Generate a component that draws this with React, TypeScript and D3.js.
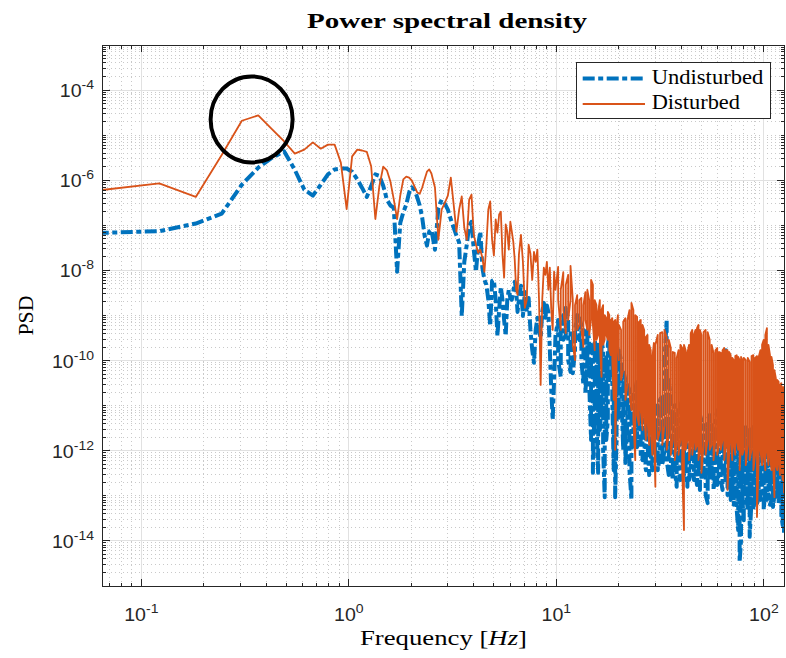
import React from "react";
import * as d3 from "d3";

// ---- Low/mid frequency part: single trace per run (Hz, log10 PSD) ----
const freqHz: number[] = [
  0.061, 0.122, 0.183, 0.244, 0.305, 0.366, 0.427, 0.488, 0.549, 0.61,
  0.671, 0.732, 0.793, 0.854, 0.915, 0.976, 1.037, 1.098, 1.159, 1.22,
  1.281, 1.342, 1.403, 1.464, 1.525, 1.586, 1.647, 1.708, 1.769, 1.83,
  1.891, 1.952, 2.013, 2.074, 2.135, 2.196, 2.257, 2.318, 2.379, 2.44,
  2.5, 2.6, 2.7, 2.8, 2.9, 3.0, 3.1, 3.2, 3.3, 3.4,
  3.5, 3.6, 3.7, 3.8, 3.9, 4.0, 4.1, 4.2, 4.3, 4.4,
  4.5, 4.6, 4.7, 4.8, 4.9, 5.0, 5.1, 5.2, 5.3, 5.4,
  5.5, 5.6, 5.7, 5.8, 5.9, 6.0, 6.1, 6.2, 6.3, 6.4,
  6.5, 6.6,
  6.75, 6.9, 7.05, 7.2, 7.35, 7.5, 7.65, 7.8, 7.95, 8.1,
  8.25, 8.4, 8.55, 8.7, 8.85, 9.0, 9.15, 9.3, 9.45, 9.6,
  9.75, 9.9,
];

const undisturbedLog10: number[] = [
  -7.17, -7.13, -6.96, -6.74, -6.10, -5.72, -5.50, -5.36, -5.77, -6.21,
  -6.34, -6.10, -5.87, -5.76, -5.74, -5.74, -5.81, -5.98, -6.17, -6.37,
  -6.13, -5.87, -5.90, -6.12, -6.43, -6.56, -6.61, -8.03, -6.95, -6.71,
  -6.54, -6.27, -6.16, -6.21, -6.38, -6.56, -6.83, -7.23, -7.45, -7.14,
  -7.10, -7.54, -6.61, -6.43, -6.52, -6.65, -6.87, -7.05, -7.23, -7.38,
  -9.01, -7.81, -7.43, -7.01, -6.92, -7.54, -8.03, -7.43, -7.14, -7.94,
  -8.21, -8.32, -8.65, -9.23, -8.23, -8.21, -8.65, -9.45, -8.87, -8.37,
  -8.65, -9.10, -9.45, -8.65, -8.43, -8.61, -8.65, -8.48, -8.25, -8.43,
  -8.92, -8.65,
  -8.34, -9.01, -8.48, -8.92, -8.61, -9.32, -9.76, -10.05, -9.32, -9.05,
  -9.32, -9.50, -8.92, -8.72, -9.05, -8.78, -8.92, -9.76, -10.65, -11.32,
  -10.43, -9.45,
];

const disturbedLog10: number[] = [
  -6.23, -6.07, -6.37, -5.44, -4.68, -4.56, -4.87, -5.14, -5.41, -5.32,
  -5.16, -5.30, -5.21, -5.21, -5.61, -6.64, -5.47, -5.32, -5.34, -5.37,
  -5.69, -6.86, -6.13, -5.70, -5.78, -6.03, -6.43, -6.86, -6.34, -5.98,
  -5.92, -5.94, -6.01, -6.14, -6.27, -6.30, -6.16, -5.98, -5.81, -5.76,
  -5.85, -6.16, -7.32, -6.65, -6.50, -6.34, -5.94, -6.54, -7.14, -6.65,
  -6.36, -7.05, -7.32, -6.43, -6.32, -7.21, -7.43, -7.61, -7.54, -7.72,
  -8.03, -7.43, -6.65, -6.47, -7.32, -7.67, -6.87, -7.16, -6.76, -6.70,
  -7.65, -8.16, -6.98, -7.14, -7.54, -6.92, -7.14, -7.36, -7.76, -8.43,
  -8.54, -7.65,
  -7.21, -7.81, -8.83, -8.65, -7.43, -7.63, -8.21, -7.59, -7.81, -7.54,
  -8.65, -10.54, -8.65, -7.94, -8.10, -7.81, -8.43, -7.94, -8.87, -9.32,
  -8.03, -8.43,
];

// ---- High frequency part: densely packed spectrum, stored as the
// upper and lower extent (log10 PSD) of each run within narrow frequency bins ----
const bandFreqHz: number[] = [
  10.2, 10.5, 10.8, 11.1, 11.4, 11.7, 12.0, 12.3, 12.6, 12.9,
  13.2, 13.5, 13.8, 14.1, 14.4, 14.7, 15.0, 15.3, 15.6, 15.9,
  16.2, 16.5, 16.8, 17.1, 17.4, 17.7, 18.0, 18.3, 18.6, 18.9,
  19.2, 19.5, 19.8,
  20.0, 20.5, 21.0, 21.5, 22.0, 22.5, 23.0, 23.5, 24.0, 24.5,
  25.0, 25.5, 26.0, 26.5, 27.0, 27.5, 28.0, 28.5, 29.0, 29.5,
  30.0, 30.8, 31.6, 32.4, 33.2, 34.0, 34.8, 35.6, 36.4, 37.2,
  38.0, 38.8, 39.6, 40.4, 41.2, 42.0, 42.8, 43.6, 44.4, 45.2,
  46.0, 46.8, 47.6, 48.4, 49.2,
  50.0, 51.2, 52.4, 53.6, 54.8, 56.0, 57.2, 58.4, 59.6, 60.8,
  62.0, 63.2, 64.4, 65.6, 66.8, 68.0, 69.2, 70.4, 71.6, 72.8,
  74.0, 75.2, 76.4, 77.6, 78.8,
  80.0, 81.8, 83.6, 85.4, 87.2, 89.0, 90.8, 92.6, 94.4, 96.2,
  98.0, 99.8, 101.6, 103.4, 105.2, 107.0, 108.8, 110.6, 112.4, 114.2,
  116.0, 117.8, 119.6, 121.4, 123.2, 125.0,
];

const undisturbedHi: number[] = [
  -9.10, -9.32, -8.99, -8.83, -9.06, -9.32, -9.43, -9.32, -8.99, -9.06,
  -9.21, -9.32, -9.43, -9.32, -9.54, -9.65, -9.77, -9.54, -9.77, -9.65,
  -9.88, -9.54, -9.77, -9.99, -9.88, -9.65, -9.43, -9.32, -9.54, -9.77,
  -9.99, -9.88, -9.77,
  -9.77, -9.99, -10.21, -10.43, -10.54, -10.65, -10.87, -10.76, -10.65, -10.43,
  -10.54, -10.65, -10.76, -10.54, -10.87, -10.76, -10.99, -10.87, -11.10, -10.87,
  -11.10, -10.99, -10.87, -10.76, -9.99, -9.10, -10.43, -10.87, -11.10, -10.99,
  -11.21, -11.10, -10.99, -10.87, -11.10, -10.99, -11.21, -11.10, -10.87, -10.76,
  -10.99, -10.87, -11.10, -10.99, -11.21,
  -11.32, -11.43, -11.54, -11.32, -11.21, -11.43, -11.54, -11.32, -11.10, -11.32,
  -11.21, -10.99, -10.65, -9.77, -11.32, -11.43, -11.54, -11.32, -11.43, -11.54,
  -11.32, -11.54, -11.43, -11.32, -11.54,
  -11.54, -11.43, -11.54, -11.65, -11.54, -11.43, -11.54, -11.65, -11.54, -11.43,
  -11.54, -11.32, -11.43, -11.54, -11.32, -11.54, -11.43, -11.54, -11.65, -11.54,
  -11.76, -11.65, -11.76, -11.87, -11.76, -11.98,
];

const undisturbedLo: number[] = [
  -9.99, -10.36, -9.54, -9.43, -9.99, -10.25, -10.28, -9.77, -9.43, -9.54,
  -9.99, -10.54, -10.72, -9.99, -10.54, -11.76, -12.49, -10.87, -11.32, -12.49,
  -11.54, -10.87, -11.98, -13.03, -11.76, -11.32, -10.43, -9.99, -10.87, -12.43,
  -13.03, -11.76, -11.32,
  -11.32, -10.59, -11.98, -12.27, -11.32, -12.43, -13.09, -11.70, -11.98, -11.92,
  -11.54, -12.09, -12.21, -11.76, -12.43, -11.87, -12.54, -12.09, -12.43, -11.76,
  -12.21, -12.43, -12.09, -12.32, -11.98, -12.21, -12.54, -12.21, -12.65, -12.43,
  -12.80, -12.43, -12.65, -12.21, -12.54, -12.43, -12.80, -12.65, -12.32, -12.43,
  -12.65, -12.43, -12.76, -12.54, -12.87,
  -12.65, -12.43, -12.98, -13.16, -12.65, -12.43, -12.87, -12.54, -12.76, -12.43,
  -12.65, -12.87, -12.43, -12.65, -12.98, -12.65, -13.09, -12.76, -13.20, -12.87,
  -13.31, -13.76, -14.47, -13.98, -13.09,
  -13.54, -12.87, -13.31, -13.91, -13.09, -13.31, -12.98, -13.20, -12.87, -13.09,
  -12.98, -13.31, -12.87, -13.09, -12.98, -13.20, -13.09, -13.25, -12.98, -13.09,
  -12.87, -13.20, -13.09, -13.43, -13.65, -13.82,
];

const disturbedHi: number[] = [
  -7.92, -8.43, -8.04, -8.32, -8.10, -7.90, -8.66, -8.77, -8.55, -8.66,
  -8.61, -8.77, -8.48, -8.43, -8.66, -8.21, -8.32, -8.66, -8.77, -8.92,
  -8.66, -8.88, -8.77, -8.99, -9.06, -8.92, -8.99, -9.10, -9.06, -9.14,
  -9.10, -9.21, -8.99,
  -9.21, -9.32, -9.14, -9.06, -9.10, -8.88, -8.72, -8.88, -8.99, -9.03,
  -9.14, -9.10, -9.21, -9.32, -9.48, -9.43, -9.65, -9.77, -9.94, -9.61,
  -9.65, -9.43, -9.39, -9.37, -9.32, -9.48, -9.54, -9.72, -9.81, -9.83,
  -9.94, -9.77, -9.65, -9.72, -9.65, -9.77, -9.83, -9.65, -9.39, -9.32,
  -9.43, -9.32, -9.28, -9.21, -9.32,
  -9.43, -9.37, -9.32, -9.37, -9.54, -9.65, -9.83, -9.77, -9.72, -9.81,
  -9.83, -9.77, -9.72, -9.77, -9.77, -9.81, -9.88, -9.94, -9.99, -9.90,
  -9.88, -9.92, -9.99, -9.92, -9.99,
  -9.94, -9.99, -9.94, -10.03, -9.90, -9.88, -9.94, -9.90, -9.92, -9.77,
  -9.65, -9.54, -9.43, -9.28, -9.65, -9.88, -9.92, -10.10, -10.21, -10.39,
  -10.43, -10.47, -10.54, -10.50, -10.59, -10.59,
];

const disturbedLo: number[] = [
  -8.66, -9.32, -8.88, -9.39, -9.10, -8.66, -9.65, -9.99, -9.32, -9.21,
  -9.32, -9.70, -9.10, -9.32, -9.43, -9.10, -9.21, -9.77, -9.54, -9.43,
  -9.65, -10.36, -9.65, -9.54, -9.43, -9.54, -9.77, -9.88, -9.99, -10.87,
  -11.98, -10.43, -9.65,
  -9.99, -10.43, -10.21, -10.87, -10.54, -10.76, -11.10, -11.32, -12.21, -11.21,
  -11.43, -11.10, -11.54, -11.21, -11.76, -11.32, -11.87, -11.54, -12.09, -11.54,
  -12.80, -11.76, -11.54, -11.87, -11.43, -11.98, -11.65, -12.09, -11.76, -12.21,
  -11.87, -12.09, -11.76, -12.43, -13.76, -11.98, -11.76, -12.21, -11.87, -12.09,
  -11.76, -11.98, -11.87, -12.21, -11.98,
  -12.49, -11.87, -12.09, -11.76, -11.98, -11.87, -12.21, -11.76, -12.09, -11.87,
  -11.98, -11.76, -12.21, -11.87, -12.87, -12.09, -11.76, -12.21, -11.87, -12.09,
  -11.76, -11.98, -12.43, -11.87, -12.09,
  -11.98, -12.32, -11.87, -12.21, -11.98, -12.43, -12.09, -13.47, -12.21, -11.98,
  -12.32, -12.09, -12.43, -11.98, -12.32, -12.09, -12.43, -12.21, -13.03, -12.32,
  -12.43, -12.21, -12.54, -12.32, -12.65, -12.94,
];

const seriesNames = ["Undisturbed", "Disturbed"];
const xTickExponents = [-1, 0, 1, 2];
const yTickExponents = [-14, -12, -10, -8, -6, -4];
// highlighted resonance peak (frequency in Hz, log10 PSD)
const highlightFreq = 0.34;
const highlightLog10 = -4.65;

const WIDTH = 786;
const HEIGHT = 658;
const PLOT = { left: 102.5, right: 784, top: 45, bottom: 586 };
const BLUE = "#0072BD";
const ORANGE = "#D95319";
const AXIS = "#262626";

type Pt = [number, number];

// trace followed by the dense bins, each bin drawn from one extreme to the other
function buildSeries(trace: number[], hi: number[], lo: number[]): Pt[] {
  const pts: Pt[] = [];
  const n = Math.min(freqHz.length, trace.length);
  for (let i = 0; i < n; i++) pts.push([freqHz[i], Math.pow(10, trace[i])]);
  const m = Math.min(bandFreqHz.length, hi.length, lo.length);
  for (let i = 0; i < m; i++) {
    const a: Pt = [bandFreqHz[i], Math.pow(10, hi[i])];
    const b: Pt = [bandFreqHz[i], Math.pow(10, lo[i])];
    if (i % 2 === 0) pts.push(a, b);
    else pts.push(b, a);
  }
  return pts;
}

export default function App() {
  const x = d3.scaleLog().domain([0.065, 125]).range([PLOT.left, PLOT.right]);
  const y = d3.scaleLog().domain([1e-15, 1e-3]).range([PLOT.bottom, PLOT.top]);

  const undisturbed = buildSeries(undisturbedLog10, undisturbedHi, undisturbedLo);
  const disturbed = buildSeries(disturbedLog10, disturbedHi, disturbedLo);
  const line = d3
    .line<Pt>()
    .x((d) => x(d[0]))
    .y((d) => y(d[1]));

  const [x0, x1] = x.domain();
  const [y0, y1] = y.domain();

  const xMinor: number[] = [];
  for (let e = -2; e <= 2; e++) {
    for (let k = 2; k <= 9; k++) {
      const v = k * Math.pow(10, e);
      if (v >= x0 && v <= x1) xMinor.push(v);
    }
  }
  const yMinor: number[] = [];
  for (let e = -16; e <= -3; e++) {
    for (let k = 1; k <= 9; k++) {
      if (k === 1 && yTickExponents.includes(e)) continue;
      const v = k * Math.pow(10, e);
      if (v >= y0 * 0.999 && v <= y1 * 1.001) yMinor.push(v);
    }
  }

  const majorLen = 7;
  const minorLen = 3.5;

  return (
    <svg
      width={WIDTH}
      height={HEIGHT}
      viewBox={`0 0 ${WIDTH} ${HEIGHT}`}
      style={{ position: "absolute", left: 0, top: 0, display: "block", background: "#fff" }}
    >
      <defs>
        <clipPath id="plot-clip">
          <rect x={PLOT.left} y={PLOT.top} width={PLOT.right - PLOT.left} height={PLOT.bottom - PLOT.top} />
        </clipPath>
      </defs>
      <rect x={0} y={0} width={WIDTH} height={HEIGHT} fill="#fff" />

      {/* grid */}
      <g strokeWidth={1} fill="none" shapeRendering="crispEdges">
        {xMinor.map((v, i) => (
          <line key={`xm${i}`} x1={x(v)} x2={x(v)} y1={PLOT.top} y2={PLOT.bottom} stroke="#c9c9c9" strokeDasharray="1 3" />
        ))}
        {yMinor.map((v, i) => (
          <line key={`ym${i}`} x1={PLOT.left} x2={PLOT.right} y1={y(v)} y2={y(v)} stroke="#c9c9c9" strokeDasharray="1 3" />
        ))}
        {xTickExponents.map((e) => (
          <line key={`xg${e}`} x1={x(Math.pow(10, e))} x2={x(Math.pow(10, e))} y1={PLOT.top} y2={PLOT.bottom} stroke="#e1e1e1" />
        ))}
        {yTickExponents.map((e) => (
          <line key={`yg${e}`} x1={PLOT.left} x2={PLOT.right} y1={y(Math.pow(10, e))} y2={y(Math.pow(10, e))} stroke="#e1e1e1" />
        ))}
      </g>

      {/* spectra */}
      <g clipPath="url(#plot-clip)" fill="none">
        <path
          d={line(undisturbed) || ""}
          stroke={BLUE}
          strokeWidth={4}
          strokeDasharray="12 3.5 5 3.5"
          strokeLinejoin="round"
        />
        <path d={line(disturbed) || ""} stroke={ORANGE} strokeWidth={1.8} strokeLinejoin="round" />
        <ellipse
          cx={x(highlightFreq)}
          cy={y(Math.pow(10, highlightLog10))}
          rx={41}
          ry={43}
          stroke="#000"
          strokeWidth={4}
        />
      </g>

      {/* axes box and ticks */}
      <g stroke={AXIS} strokeWidth={1} fill="none" shapeRendering="crispEdges">
        <rect x={PLOT.left} y={PLOT.top} width={PLOT.right - PLOT.left} height={PLOT.bottom - PLOT.top} />
        {xMinor.map((v, i) => (
          <g key={`xt${i}`}>
            <line x1={x(v)} x2={x(v)} y1={PLOT.bottom} y2={PLOT.bottom - minorLen} />
            <line x1={x(v)} x2={x(v)} y1={PLOT.top} y2={PLOT.top + minorLen} />
          </g>
        ))}
        {xTickExponents.map((e) => (
          <g key={`xT${e}`}>
            <line x1={x(Math.pow(10, e))} x2={x(Math.pow(10, e))} y1={PLOT.bottom} y2={PLOT.bottom - majorLen} />
            <line x1={x(Math.pow(10, e))} x2={x(Math.pow(10, e))} y1={PLOT.top} y2={PLOT.top + majorLen} />
          </g>
        ))}
        {yMinor.map((v, i) => (
          <g key={`yt${i}`}>
            <line x1={PLOT.left} x2={PLOT.left + minorLen} y1={y(v)} y2={y(v)} />
            <line x1={PLOT.right} x2={PLOT.right - minorLen} y1={y(v)} y2={y(v)} />
          </g>
        ))}
        {yTickExponents.map((e) => (
          <g key={`yT${e}`}>
            <line x1={PLOT.left} x2={PLOT.left + majorLen} y1={y(Math.pow(10, e))} y2={y(Math.pow(10, e))} />
            <line x1={PLOT.right} x2={PLOT.right - majorLen} y1={y(Math.pow(10, e))} y2={y(Math.pow(10, e))} />
          </g>
        ))}
      </g>

      {/* tick labels */}
      <g fill={AXIS} fontFamily="'Liberation Sans', Arial, sans-serif">
        {xTickExponents.map((e) => (
          <text
            key={`xl${e}`}
            transform={`translate(${x(Math.pow(10, e))},621) scale(1.12,1)`}
            textAnchor="middle"
            fontSize={17.5}
          >
            10
            <tspan dy={-8} fontSize={12.5}>
              {e}
            </tspan>
          </text>
        ))}
        {yTickExponents.map((e) => (
          <text
            key={`yl${e}`}
            transform={`translate(94,${y(Math.pow(10, e)) + 7}) scale(1.12,1)`}
            textAnchor="end"
            fontSize={17.5}
          >
            10
            <tspan dy={-8} fontSize={12.5}>
              {e}
            </tspan>
          </text>
        ))}
      </g>

      {/* titles */}
      <g fill="#000" fontFamily="'Liberation Serif', 'Times New Roman', serif">
        <text
          x={447}
          y={28}
          textAnchor="middle"
          fontSize={20}
          fontWeight="bold"
          textLength={280}
          lengthAdjust="spacingAndGlyphs"
        >
          Power spectral density
        </text>
        <text
          transform={`translate(33,${(PLOT.top + PLOT.bottom) / 2}) rotate(-90)`}
          textAnchor="middle"
          fontSize={20}
          textLength={40}
          lengthAdjust="spacingAndGlyphs"
        >
          PSD
        </text>
        <text x={443.5} y={645} textAnchor="middle" fontSize={20} textLength={167} lengthAdjust="spacingAndGlyphs">
          Frequency [<tspan fontStyle="italic">Hz</tspan>]
        </text>
      </g>

      {/* legend */}
      <g>
        <rect x={576} y={62.3} width={194.5} height={56} fill="#fff" stroke={AXIS} strokeWidth={1} shapeRendering="crispEdges" />
        <line x1={582.7} x2={645} y1={78.5} y2={78.5} stroke={BLUE} strokeWidth={4} strokeDasharray="12 3.5 5 3.5" />
        <line x1={582.7} x2={645} y1={104} y2={104} stroke={ORANGE} strokeWidth={1.8} />
        <g fill="#000" fontFamily="'Liberation Serif', 'Times New Roman', serif" fontSize={20}>
          <text x={651.7} y={84} textLength={111.6} lengthAdjust="spacingAndGlyphs">
            {seriesNames[0]}
          </text>
          <text x={651.7} y={109} textLength={88.3} lengthAdjust="spacingAndGlyphs">
            {seriesNames[1]}
          </text>
        </g>
      </g>
    </svg>
  );
}
